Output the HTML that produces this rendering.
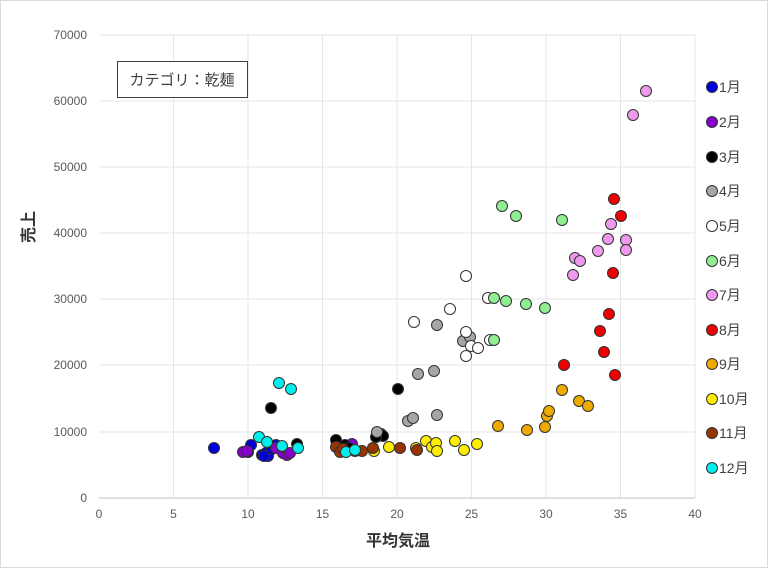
<!DOCTYPE html><html><head><meta charset="utf-8"><style>body{margin:0;background:#fff}svg{display:block}text{font-family:"Liberation Sans","Noto Sans CJK JP",sans-serif}</style></head><body>
<svg width="768" height="568" viewBox="0 0 768 568" xmlns="http://www.w3.org/2000/svg">
<rect x="0.5" y="0.5" width="767" height="567" fill="#fff" stroke="#d9d9d9"/>
<g stroke="#e6e6e6" stroke-width="1">
<line x1="99" y1="35" x2="695" y2="35"/><line x1="99" y1="101" x2="695" y2="101"/><line x1="99" y1="167" x2="695" y2="167"/><line x1="99" y1="233" x2="695" y2="233"/><line x1="99" y1="299" x2="695" y2="299"/><line x1="99" y1="365" x2="695" y2="365"/><line x1="99" y1="432" x2="695" y2="432"/>
<line x1="173.5" y1="35" x2="173.5" y2="498"/><line x1="248" y1="35" x2="248" y2="498"/><line x1="322.5" y1="35" x2="322.5" y2="498"/><line x1="397" y1="35" x2="397" y2="498"/><line x1="471.5" y1="35" x2="471.5" y2="498"/><line x1="546" y1="35" x2="546" y2="498"/><line x1="620.5" y1="35" x2="620.5" y2="498"/><line x1="695" y1="35" x2="695" y2="498"/>
</g>
<line x1="99" y1="498" x2="695" y2="498" stroke="#bfbfbf"/>
<g font-size="12" fill="#595959" text-anchor="end">
<text x="87" y="39">70000</text><text x="87" y="105">60000</text><text x="87" y="171">50000</text><text x="87" y="237">40000</text><text x="87" y="303">30000</text><text x="87" y="369">20000</text><text x="87" y="436">10000</text><text x="87" y="502">0</text></g>
<g font-size="12" fill="#595959" text-anchor="middle">
<text x="99" y="518">0</text><text x="173.5" y="518">5</text><text x="248" y="518">10</text><text x="322.5" y="518">15</text><text x="397" y="518">20</text><text x="471.5" y="518">25</text><text x="546" y="518">30</text><text x="620.5" y="518">35</text><text x="695" y="518">40</text></g>
<text x="398" y="546" font-size="16" font-weight="bold" text-anchor="middle" fill="#333">平均気温</text>
<text transform="translate(34,227) rotate(-90)" font-size="16" font-weight="bold" text-anchor="middle" fill="#333">売上</text>
<rect x="117.5" y="61.5" width="130" height="36" fill="#fff" stroke="#404040"/>
<text x="182" y="85" font-size="15" text-anchor="middle" fill="#404040">カテゴリ：乾麺</text>
<g stroke="#333" stroke-width="1">
<g fill="#0000dd"><circle cx="214" cy="448" r="5.5"/><circle cx="248" cy="452" r="5.5"/><circle cx="251" cy="445" r="5.5"/><circle cx="262" cy="455" r="5.5"/><circle cx="266" cy="453" r="5.5"/><circle cx="268" cy="456" r="5.5"/><circle cx="272" cy="449" r="5.5"/><circle cx="276" cy="445" r="5.5"/><circle cx="283" cy="451" r="5.5"/><circle cx="264" cy="456" r="5.5"/></g>
<g fill="#8800cc"><circle cx="243" cy="452" r="5.5"/><circle cx="247" cy="451" r="5.5"/><circle cx="276" cy="448" r="5.5"/><circle cx="283" cy="453" r="5.5"/><circle cx="287" cy="455" r="5.5"/><circle cx="290" cy="453" r="5.5"/><circle cx="352" cy="444" r="5.5"/></g>
<g fill="#000"><circle cx="271" cy="408" r="5.5"/><circle cx="297" cy="444" r="5.5"/><circle cx="336" cy="440" r="5.5"/><circle cx="345" cy="445" r="5.5"/><circle cx="349" cy="448" r="5.5"/><circle cx="381" cy="434" r="5.5"/><circle cx="398" cy="389" r="5.5"/><circle cx="383" cy="436" r="5.5"/><circle cx="376" cy="437" r="5.5"/></g>
<g fill="#a6a6a6"><circle cx="377" cy="432" r="5.5"/><circle cx="408" cy="421" r="5.5"/><circle cx="413" cy="418" r="5.5"/><circle cx="418" cy="374" r="5.5"/><circle cx="437" cy="325" r="5.5"/><circle cx="434" cy="371" r="5.5"/><circle cx="437" cy="415" r="5.5"/><circle cx="463" cy="341" r="5.5"/><circle cx="470" cy="337" r="5.5"/></g>
<g fill="#fff"><circle cx="414" cy="322" r="5.5"/><circle cx="466" cy="276" r="5.5"/><circle cx="450" cy="309" r="5.5"/><circle cx="466" cy="356" r="5.5"/><circle cx="466" cy="332" r="5.5"/><circle cx="471" cy="346" r="5.5"/><circle cx="478" cy="348" r="5.5"/><circle cx="488" cy="298" r="5.5"/><circle cx="490" cy="340" r="5.5"/></g>
<g fill="#90ee90"><circle cx="494" cy="298" r="5.5"/><circle cx="502" cy="206" r="5.5"/><circle cx="516" cy="216" r="5.5"/><circle cx="506" cy="301" r="5.5"/><circle cx="526" cy="304" r="5.5"/><circle cx="545" cy="308" r="5.5"/><circle cx="562" cy="220" r="5.5"/><circle cx="494" cy="340" r="5.5"/></g>
<g fill="#ee99ee"><circle cx="646" cy="91" r="5.5"/><circle cx="633" cy="115" r="5.5"/><circle cx="575" cy="258" r="5.5"/><circle cx="580" cy="261" r="5.5"/><circle cx="573" cy="275" r="5.5"/><circle cx="598" cy="251" r="5.5"/><circle cx="608" cy="239" r="5.5"/><circle cx="611" cy="224" r="5.5"/><circle cx="626" cy="240" r="5.5"/><circle cx="626" cy="250" r="5.5"/></g>
<g fill="#ee0000"><circle cx="614" cy="199" r="5.5"/><circle cx="621" cy="216" r="5.5"/><circle cx="613" cy="273" r="5.5"/><circle cx="600" cy="331" r="5.5"/><circle cx="604" cy="352" r="5.5"/><circle cx="609" cy="314" r="5.5"/><circle cx="564" cy="365" r="5.5"/><circle cx="615" cy="375" r="5.5"/></g>
<g fill="#eeaa00"><circle cx="498" cy="426" r="5.5"/><circle cx="527" cy="430" r="5.5"/><circle cx="545" cy="427" r="5.5"/><circle cx="547" cy="416" r="5.5"/><circle cx="549" cy="411" r="5.5"/><circle cx="562" cy="390" r="5.5"/><circle cx="579" cy="401" r="5.5"/><circle cx="588" cy="406" r="5.5"/></g>
<g fill="#ffee00"><circle cx="374" cy="451" r="5.5"/><circle cx="389" cy="447" r="5.5"/><circle cx="416" cy="448" r="5.5"/><circle cx="426" cy="441" r="5.5"/><circle cx="432" cy="447" r="5.5"/><circle cx="436" cy="443" r="5.5"/><circle cx="437" cy="451" r="5.5"/><circle cx="455" cy="441" r="5.5"/><circle cx="464" cy="450" r="5.5"/><circle cx="477" cy="444" r="5.5"/></g>
<g fill="#993300"><circle cx="336" cy="447" r="5.5"/><circle cx="340" cy="452" r="5.5"/><circle cx="343" cy="449" r="5.5"/><circle cx="355" cy="451" r="5.5"/><circle cx="362" cy="451" r="5.5"/><circle cx="373" cy="448" r="5.5"/><circle cx="400" cy="448" r="5.5"/><circle cx="417" cy="450" r="5.5"/></g>
<g fill="#00eeee"><circle cx="259" cy="437" r="5.5"/><circle cx="267" cy="442" r="5.5"/><circle cx="279" cy="383" r="5.5"/><circle cx="291" cy="389" r="5.5"/><circle cx="282" cy="446" r="5.5"/><circle cx="298" cy="448" r="5.5"/><circle cx="346" cy="452" r="5.5"/><circle cx="355" cy="450" r="5.5"/></g>
</g>
<g stroke="#333" stroke-width="1">
<circle cx="712" cy="87" r="5.5" fill="#0000dd"/><circle cx="712" cy="122" r="5.5" fill="#8800cc"/><circle cx="712" cy="157" r="5.5" fill="#000"/><circle cx="712" cy="191" r="5.5" fill="#a6a6a6"/><circle cx="712" cy="226" r="5.5" fill="#fff"/><circle cx="712" cy="261" r="5.5" fill="#90ee90"/><circle cx="712" cy="295" r="5.5" fill="#ee99ee"/><circle cx="712" cy="330" r="5.5" fill="#ee0000"/><circle cx="712" cy="364" r="5.5" fill="#eeaa00"/><circle cx="712" cy="399" r="5.5" fill="#ffee00"/><circle cx="712" cy="433" r="5.5" fill="#993300"/><circle cx="712" cy="468" r="5.5" fill="#00eeee"/></g>
<g font-size="14" fill="#404040">
<text x="719" y="92">1月</text><text x="719" y="127">2月</text><text x="719" y="162">3月</text><text x="719" y="196">4月</text><text x="719" y="231">5月</text><text x="719" y="266">6月</text><text x="719" y="300">7月</text><text x="719" y="335">8月</text><text x="719" y="369">9月</text><text x="719" y="404">10月</text><text x="719" y="438">11月</text><text x="719" y="473">12月</text></g>
</svg></body></html>
